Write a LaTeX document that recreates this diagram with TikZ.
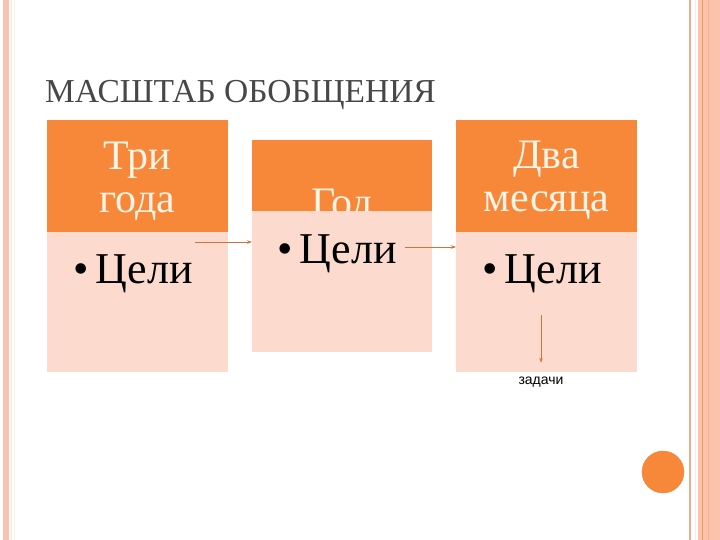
\documentclass[tikz,border=0pt]{standalone}
\usepackage{fontspec}
\setmainfont{Liberation Serif}
\newfontfamily\sansfont{Liberation Sans}
\usetikzlibrary{arrows.meta}
\definecolor{hdr}{HTML}{F7883A}
\definecolor{bdy}{HTML}{FCDBCE}
\definecolor{arr}{HTML}{D2733A}
\definecolor{stripe}{HTML}{FBC3AC}
\definecolor{ttl}{HTML}{474747}
\definecolor{hdrtxt}{HTML}{FFF4E6}
\begin{document}
\begin{tikzpicture}[x=1pt,y=-1pt,
  hdrbox/.style={fill=hdr,draw=none,inner sep=0pt,anchor=north west},
  bodybox/.style={fill=bdy,draw=none,inner sep=0pt,anchor=north west},
  hdrtext/.style={text=hdrtxt,font=\fontsize{42}{43}\selectfont,align=center},
  goal/.style={font=\fontsize{44}{46}\selectfont,anchor=west,inner sep=0pt},
  link/.style={draw=arr,line width=0.6pt,-{Stealth[length=5pt,width=3.5pt]}}]
\useasboundingbox (0,0) rectangle (720,540);
% page frame
\fill[stripe] (3,0) rectangle (9,540);
\draw[stripe!50] (11,0) -- (11,540);
\draw[yellow!15!stripe!30] (14,0) -- (14,540);
\draw[brown!30!stripe,line width=1.5pt] (690,0) -- (690,540);
\draw[stripe!40] (695,0) -- (695,540);
\fill[stripe] (698,0) rectangle (720,540);
\draw[hdr!70!stripe,line width=1pt] (702.5,0) -- (702.5,540);
\draw[hdr!30!stripe] (708,0) -- (708,540);
\fill[hdr,draw=hdr!80!brown] (663,472) circle (21);
% title
\node[text=ttl,font=\fontsize{33.5}{36}\selectfont,anchor=base west,inner sep=0pt] (title) at (45,103) {МАСШТАБ ОБОБЩЕНИЯ};
% box 1
\node[hdrbox,minimum width=181,minimum height=112] (h1) at (47,120) {};
\node[hdrtext] (t1) at (137.5,181) {Три\\года};
\node[bodybox,minimum width=181,minimum height=140] (b1) at (47,232) {};
\node[goal] (g1) at (73,274) {\textbullet\,Цели};
% box 2
\node[hdrbox,minimum width=180,minimum height=71] (h2) at (252,140) {};
\node[hdrtext,anchor=base] (t2) at (342,216) {Год};
\node[bodybox,minimum width=180,minimum height=141] (b2) at (252,211) {};
\node[goal] (g2) at (277,254) {\textbullet\,Цели};
% box 3
\node[hdrbox,minimum width=181,minimum height=112] (h3) at (456,120) {};
\node[hdrtext] (t3) at (546.5,180) {Два\\месяца};
\node[bodybox,minimum width=181,minimum height=140] (b3) at (456,232) {};
\node[goal] (g3) at (482,274) {\textbullet\,Цели};
\node[font=\sansfont\fontsize{14}{16}\selectfont,inner sep=1pt] (tasks) at (541,382) {задачи};
% arrows
\coordinate (a1) at (195,242);
\coordinate (a2) at (405,247);
\coordinate (a3) at (541,315);
\draw[link] (a1) -- (a1 -| b2.west);
\draw[link] (a2) -- (a2 -| b3.west);
\draw[link,shorten >=13pt] (a3) -- (tasks);
\end{tikzpicture}
\end{document}
